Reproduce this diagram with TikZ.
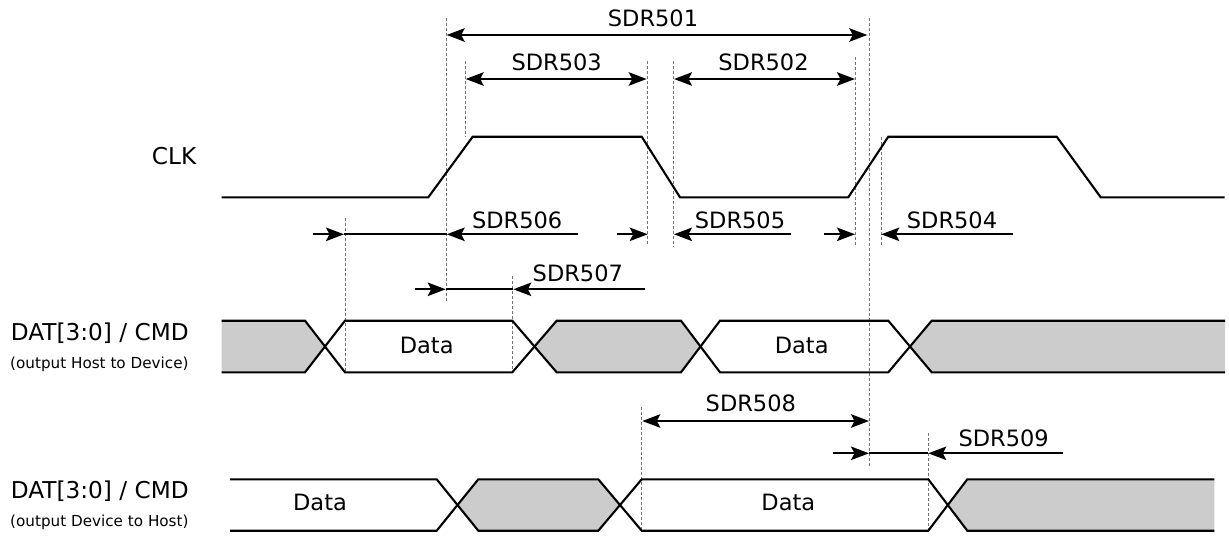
\documentclass[tikz,border=0pt]{standalone}
\usepackage{fontspec}
\setmainfont{DejaVu Sans}
\usetikzlibrary{arrows.meta}
\begin{document}
\begin{tikzpicture}[x=1pt,y=-1pt,
  >={Stealth[length=18pt,width=13.5pt,inset=3.5pt]},
  wave/.style={line width=2.1pt, line join=miter},
  dim/.style={line width=1.9pt},
  guide/.style={line width=0.8pt, black!55, dash pattern=on 3pt off 2pt},
  lbl/.style={inner sep=0pt, anchor=base, font=\fontsize{22.5}{27}\selectfont},
  sig/.style={inner sep=0pt, anchor=base west, font=\fontsize{23.2}{28}\selectfont},
  sub/.style={inner sep=0pt, anchor=base west, font=\fontsize{15.2}{18}\selectfont},
  busfill/.style={fill=gray!40, draw=none}]
\useasboundingbox (0,0) rectangle (1229,536);

% ---------- signal labels ----------
\node[sig] (clk) at (151.7,164.3) {CLK};
\node[sig] (dat1) at (10.7,340) {DAT[3:0] / CMD};
\node[sub] (sub1) at (10,368.3) {(output Host to Device)};
\node[sig] (dat2) at (10.7,498.3) {DAT[3:0] / CMD};
\node[sub] (sub2) at (10,526.7) {(output Device to Host)};

% ---------- guide lines ----------
\coordinate (g1a) at (446,18);    \coordinate (g1b) at (446,302);
\coordinate (g2a) at (869,18);    \coordinate (g2b) at (869,468);
\coordinate (g3a) at (465.7,61);  \coordinate (g3b) at (465.7,137);
\coordinate (g4a) at (647.7,61);  \coordinate (g4b) at (647.7,244);
\coordinate (g5a) at (673.3,61);  \coordinate (g5b) at (673.3,247);
\coordinate (g6a) at (855.7,57);  \coordinate (g6b) at (855.7,247);
\coordinate (g7a) at (881.3,137); \coordinate (g7b) at (881.3,247);
\coordinate (g8a) at (345,218);   \coordinate (g8b) at (345,372);
\coordinate (g9a) at (512.3,276); \coordinate (g9b) at (512.3,372);
\coordinate (g10a) at (641.7,407);\coordinate (g10b) at (641.7,530);
\coordinate (g11a) at (928.3,433);\coordinate (g11b) at (928.3,530);
\foreach \i in {1,...,11} \draw[guide] (g\i a) -- (g\i b);

% ---------- CLK waveform ----------
\draw[wave] (221.7,197.3) -- (428.3,197.3) -- (472.7,136.7) -- (641.7,136.7)
  -- (680,197.3) -- (848.3,197.3) -- (888.3,136.7) -- (1056.7,136.7)
  -- (1100.7,197.3) -- (1224.7,197.3);

% ---------- DAT row 1 (Host to Device) ----------
\fill[busfill] (221.7,320.7) -- (305,320.7) -- (325,346.5) -- (305,372.3) -- (221.7,372.3) -- cycle;
\fill[busfill] (534.5,346.5) -- (556.7,320.7) -- (681,320.7) -- (700.5,346.5) -- (681,372.3) -- (556.7,372.3) -- cycle;
\fill[busfill] (910,346.5) -- (931.7,320.7) -- (1225,320.7) -- (1225,372.3) -- (931.7,372.3) -- cycle;
\draw[wave] (221.7,320.7) -- (305,320.7) -- (345,372.3) -- (512.3,372.3) -- (556.7,320.7)
  -- (681,320.7) -- (720,372.3) -- (888.3,372.3) -- (931.7,320.7) -- (1225,320.7);
\draw[wave] (221.7,372.3) -- (305,372.3) -- (345,320.7) -- (512.3,320.7) -- (556.7,372.3)
  -- (681,372.3) -- (720,320.7) -- (888.3,320.7) -- (931.7,372.3) -- (1225,372.3);
\node[lbl] (d1) at (426.7,353.3) {Data};
\node[lbl] (d2) at (801.7,353.3) {Data};

% ---------- DAT row 2 (Device to Host) ----------
\fill[busfill] (457.5,505) -- (478.3,479.3) -- (598.3,479.3) -- (620,505) -- (598.3,530.7) -- (478.3,530.7) -- cycle;
\fill[busfill] (947.8,505) -- (967.3,479.3) -- (1214.3,479.3) -- (1214.3,530.7) -- (967.3,530.7) -- cycle;
\draw[wave] (230,479.3) -- (436.7,479.3) -- (478.3,530.7) -- (598.3,530.7) -- (641.7,479.3)
  -- (928.3,479.3) -- (967.3,530.7) -- (1214.3,530.7);
\draw[wave] (230,530.7) -- (436.7,530.7) -- (478.3,479.3) -- (598.3,479.3) -- (641.7,530.7)
  -- (928.3,530.7) -- (967.3,479.3) -- (1214.3,479.3);
\node[lbl] (d3) at (320,510.7) {Data};
\node[lbl] (d4) at (788.3,510.7) {Data};

% ---------- timing labels ----------
\node[lbl] (l501) at (653,26.7) {SDR501};
\node[lbl] (l503) at (556.7,70.7) {SDR503};
\node[lbl] (l502) at (763.5,70.7) {SDR502};
\node[lbl] (l506) at (517.2,228.3) {SDR506};
\node[lbl] (l505) at (740,228.3) {SDR505};
\node[lbl] (l504) at (952,228.3) {SDR504};
\node[lbl] (l507) at (577.8,281.7) {SDR507};
\node[lbl] (l508) at (750.8,411.7) {SDR508};
\node[lbl] (l509) at (1003.7,446.7) {SDR509};

% ---------- dimension arrows ----------
\coordinate (a501l) at (446.7,35);  \coordinate (a501r) at (867.3,35);
\draw[dim,<->] (a501l) -- (a501r);
\coordinate (a503l) at (465.7,79);  \coordinate (a503r) at (646.7,79);
\draw[dim,<->] (a503l) -- (a503r);
\coordinate (a502l) at (674,79);    \coordinate (a502r) at (855,79);
\draw[dim,<->] (a502l) -- (a502r);

\coordinate (a506s) at (313.3,234.3); \coordinate (a506a) at (344,234.3);
\coordinate (a506b) at (446.7,234.3); \coordinate (a506e) at (578.3,234.3);
\draw[dim,->] (a506s) -- (a506a);
\draw[dim] (a506a) -- (a506b);
\draw[dim,<-] (a506b) -- (a506e);
\coordinate (a506fs) at (616.7,234.3); \coordinate (a506ft) at (647.7,234.3);
\draw[dim,->] (a506fs) -- (a506ft);

\coordinate (a505t) at (674,234.3);  \coordinate (a505e) at (790.7,234.3);
\draw[dim,<-] (a505t) -- (a505e);
\coordinate (a505fs) at (824,234.3); \coordinate (a505ft) at (855,234.3);
\draw[dim,->] (a505fs) -- (a505ft);

\coordinate (a504t) at (881.3,234.3); \coordinate (a504e) at (1013,234.3);
\draw[dim,<-] (a504t) -- (a504e);

\coordinate (a507s) at (415,289.3);   \coordinate (a507a) at (445.7,289.3);
\coordinate (a507b) at (513.3,289.3); \coordinate (a507e) at (645,289.3);
\draw[dim,->] (a507s) -- (a507a);
\draw[dim] (a507a) -- (a507b);
\draw[dim,<-] (a507b) -- (a507e);

\coordinate (a508l) at (642.3,421); \coordinate (a508r) at (869,421);
\draw[dim,<->] (a508l) -- (a508r);

\coordinate (a509s) at (832.7,453.3); \coordinate (a509a) at (869,453.3);
\coordinate (a509b) at (928.3,453.3); \coordinate (a509e) at (1062.7,453.3);
\draw[dim,->] (a509s) -- (a509a);
\draw[dim] (a509a) -- (a509b);
\draw[dim,<-] (a509b) -- (a509e);
\end{tikzpicture}
\end{document}
